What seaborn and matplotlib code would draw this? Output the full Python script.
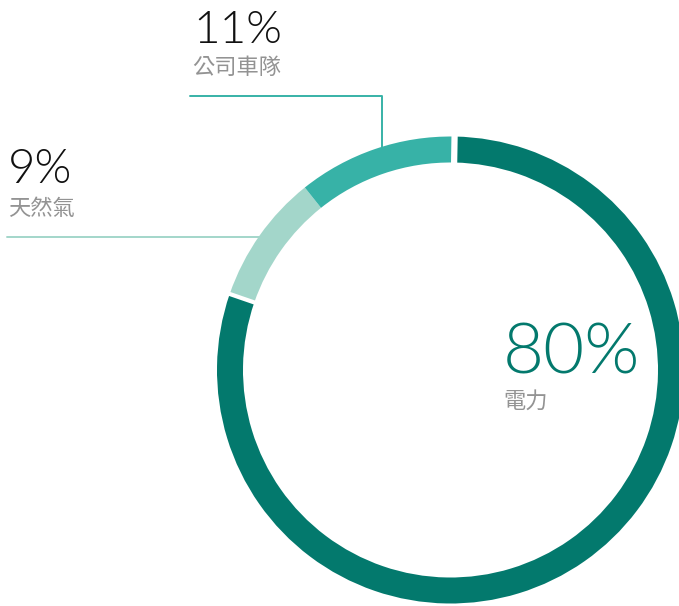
import numpy as np
import matplotlib
matplotlib.use("Agg")
import matplotlib.pyplot as plt
import seaborn as sns

sns.set_theme(style="white")
plt.rcParams['font.family'] = ['Noto Sans CJK TC', 'DejaVu Sans']

# data
categories = ["電力", "天然氣", "公司車隊"]
shares = [80, 9, 11]
pct_labels = ["80%", "9%", "11%"]
colors = ["#03796d", "#a3d6ca", "#37b2a7"]

W, H = 679, 606
fig = plt.figure(figsize=(W / 100, H / 100), dpi=100)
ax = fig.add_axes([0, 0, 1, 1])
ax.set_xlim(0, W)
ax.set_ylim(0, H)
ax.set_aspect("equal")
ax.axis("off")

def Y(y):
    return H - y

cx, cy = 450.5, 370
R_out, ring = 233.5, 26

ax.pie(shares, colors=colors, startangle=89, counterclock=False,
       center=(cx, Y(cy)), radius=R_out, frame=True,
       wedgeprops=dict(width=ring, edgecolor="none", linewidth=0))
ax.set_xlim(0, W)
ax.set_ylim(0, H)
ax.axis("off")

# white gaps on both sides of the dominant (first) wedge
fr = np.array(shares) / sum(shares)
for frac_pos, lw in [(0.0, 4.5), (fr[0], 3.0)]:
    ang = np.deg2rad(89 - 360 * frac_pos)
    r0, r1 = R_out - ring - 2, R_out + 2
    ax.plot([cx + r0 * np.cos(ang), cx + r1 * np.cos(ang)],
            [Y(cy) + r0 * np.sin(ang), Y(cy) + r1 * np.sin(ang)],
            color="white", lw=lw, solid_capstyle="butt", zorder=5)

thin = dict(family=["Lato", "DejaVu Sans"], fontweight=300)
gray = "#939393"

# 80% label
ax.text(503, Y(374), pct_labels[0], fontsize=51, color=colors[0], va="baseline", ha="left", **thin)
ax.text(503, Y(408), categories[0], fontsize=16, color=gray, va="baseline", ha="left")

# 9% label
ax.text(8, Y(183), pct_labels[1], fontsize=34, color="#111111", va="baseline", ha="left", **thin)
ax.text(8, Y(215), categories[1], fontsize=16, color=gray, va="baseline", ha="left")
ly = 237
lx_end = cx - np.sqrt(R_out ** 2 - (ly - cy) ** 2) + 8
ax.plot([7, lx_end], [Y(ly), Y(ly)], color=colors[1], lw=1.4, zorder=1)

# 11% label
ax.text(193, Y(43), pct_labels[2], fontsize=33, color="#111111", va="baseline", ha="left", **thin)
ax.text(192, Y(74), categories[2], fontsize=16, color=gray, va="baseline", ha="left")
hy, vx = 96, 382
vy_end = cy - np.sqrt(R_out ** 2 - (vx - cx) ** 2) + 6
ax.plot([190, vx, vx], [Y(hy), Y(hy), Y(vy_end)], color=colors[2], lw=1.4, zorder=1)

fig.savefig("out.png", dpi=100)
